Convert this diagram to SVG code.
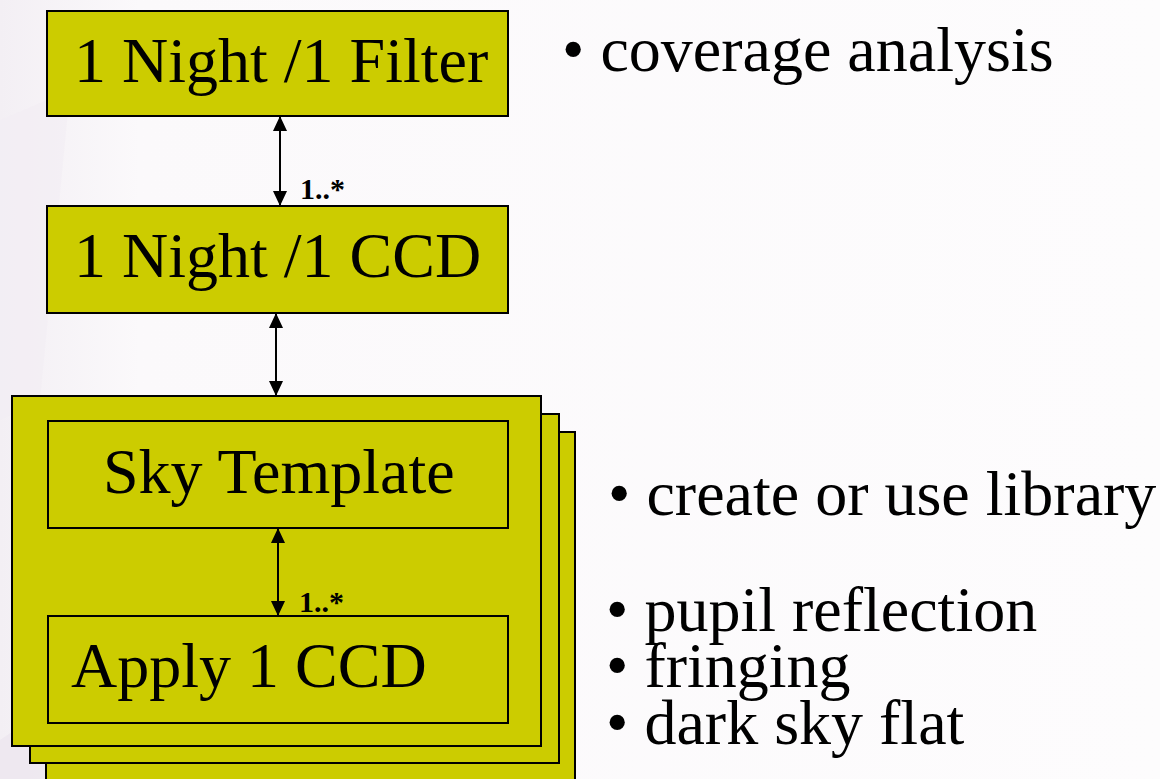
<svg xmlns="http://www.w3.org/2000/svg" width="1160" height="779" viewBox="0 0 1160 779">
  <defs>
    <linearGradient id="bg" x1="0" y1="0" x2="1" y2="0">
      <stop offset="0" stop-color="#f3eff4"/>
      <stop offset="0.12" stop-color="#fbf9fb"/>
      <stop offset="1" stop-color="#fdfcfd"/>
    </linearGradient>
    <marker id="ah" viewBox="0 0 15 14" refX="15" refY="7" markerWidth="15" markerHeight="14" markerUnits="userSpaceOnUse" orient="auto-start-reverse">
      <path d="M0,0 L15,7 L0,14 z" fill="#000"/>
    </marker>
    <style>
      .box { fill: #cccc00; stroke: #000; stroke-width: 2; }
      .big { font-family: "Liberation Serif", "Times New Roman", serif; font-size: 64px; fill: #000; }
      .mult { font-family: "Liberation Serif", "Times New Roman", serif; font-size: 30px; font-weight: bold; fill: #000; }
      .conn { stroke: #000; stroke-width: 2; fill: none; marker-start: url(#ah); marker-end: url(#ah); }
    </style>
  </defs>

  <rect x="0" y="0" width="1160" height="779" fill="url(#bg)"/>
  <path d="M0,120 L70,90 L40,400 L0,420 Z" fill="#f1edf3" opacity="0.6"/>
  <path d="M0,740 L60,700 L46,779 L0,779 Z" fill="#ece6ef" opacity="0.8"/>

  <g id="node-filter">
    <rect class="box" x="47" y="11" width="461" height="105"/>
    <text class="big" x="74" y="82">1 Night /1 Filter</text>
  </g>

  <g id="node-ccd">
    <rect class="box" x="47" y="206" width="461" height="107"/>
    <text class="big" x="74" y="277">1 Night /1 CCD</text>
  </g>

  <g id="node-stack">
    <rect class="box" x="46" y="432" width="529" height="360"/>
    <rect class="box" x="30" y="414" width="529" height="349"/>
    <rect class="box" x="12" y="396" width="529" height="350"/>
  </g>

  <g id="node-sky">
    <rect class="box" x="48" y="421" width="460" height="107"/>
    <text class="big" x="103" y="493">Sky Template</text>
  </g>

  <g id="node-apply">
    <rect class="box" x="48" y="616" width="460" height="107"/>
    <text class="big" x="71" y="687">Apply 1 CCD</text>
  </g>

  <g id="connectors">
    <line class="conn" x1="280" y1="116" x2="280" y2="206"/>
    <text class="mult" x="300" y="199">1..*</text>
    <line class="conn" x1="276" y1="313" x2="276" y2="396"/>
    <line class="conn" x1="278" y1="528" x2="278" y2="616"/>
    <text class="mult" x="299" y="612">1..*</text>
  </g>

  <g id="notes">
    <text class="big" x="562" y="71">• coverage analysis</text>
    <text class="big" x="608" y="515">• create or use library</text>
    <text class="big" x="606" y="631">• pupil reflection</text>
    <text class="big" x="606" y="687">• fringing</text>
    <text class="big" x="606" y="744">• dark sky flat</text>
  </g>
</svg>
